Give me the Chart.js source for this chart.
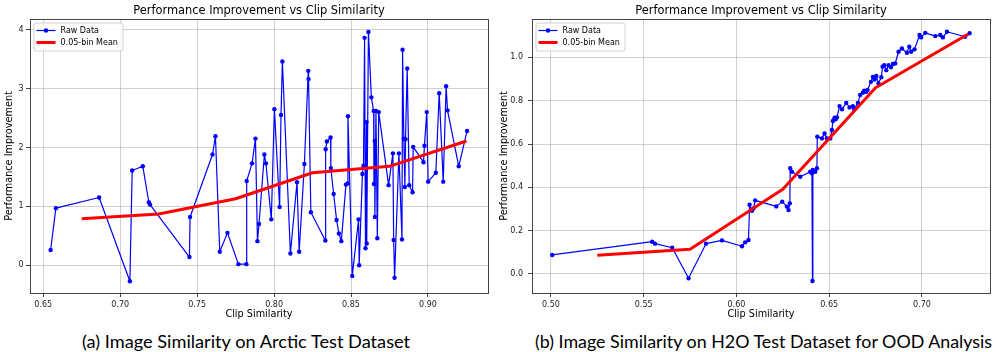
<!DOCTYPE html>
<html><head><meta charset="utf-8">
<script src="https://cdn.jsdelivr.net/npm/chart.js@4.4.1/dist/chart.umd.min.js"></script>
<style>
html,body{margin:0;padding:0;background:#fff;width:996px;height:352px;overflow:hidden;position:relative}
canvas{position:absolute;top:0}
#ca{left:0}#cb{left:498px}
.cap{position:absolute;top:331px;font-family:Lato,'Open Sans',sans-serif;font-size:18.2px;color:#000;white-space:nowrap;line-height:20px}
#capa{left:82px}#capb{left:535px;font-size:17.85px}
</style></head><body>
<canvas id="ca" width="498" height="325"></canvas>
<canvas id="cb" width="498" height="325"></canvas>
<div class="cap" id="capa"></div>
<div class="cap" id="capb"></div>
<script>
// ---------- data ----------
const chartTitle = "Performance Improvement vs Clip Similarity";
const xAxisTitle = "Clip Similarity";
const yAxisTitle = "Performance Improvement";
const rawLabel = "Raw Data";
const meanLabel = "0.05-bin Mean";
const captionA = "(a) Image Similarity on Arctic Test Dataset";
const captionB = "(b) Image Similarity on H2O Test Dataset for OOD Analysis";

const arcticX = [0.6548,0.6582,0.6863,0.7063,0.7078,0.7147,0.7186,0.7194,0.7450,0.7454,0.7600,0.7619,0.7647,0.7697,0.7768,0.7820,0.7822,0.7857,0.7879,0.7892,0.7902,0.7937,0.7947,0.7982,0.8002,0.8036,0.8045,0.8054,0.8106,0.8149,0.8163,0.8197,0.8222,0.8224,0.8239,0.8333,0.8335,0.8343,0.8367,0.8369,0.8387,0.8406,0.8421,0.8437,0.8467,0.8478,0.8480,0.8508,0.8549,0.8553,0.8574,0.8581,0.8588,0.8594,0.8601,0.8602,0.8613,0.8632,0.8647,0.8649,0.8654,0.8655,0.8662,0.8671,0.8680,0.8744,0.8772,0.8777,0.8783,0.8811,0.8831,0.8835,0.8843,0.8850,0.8854,0.8865,0.8878,0.8900,0.8904,0.8971,0.8977,0.8992,0.9001,0.9051,0.9073,0.9099,0.9118,0.9127,0.9200,0.9254];
const arcticY = [0.26,0.97,1.15,-0.27,1.61,1.68,1.07,1.03,0.14,0.82,1.88,2.19,0.23,0.55,0.02,0.02,1.43,1.73,2.15,0.41,0.70,1.88,1.73,0.78,2.65,0.99,2.55,3.46,0.20,1.41,0.23,1.72,3.30,3.16,0.90,0.42,1.97,2.10,2.17,1.65,1.21,0.77,0.54,0.41,1.37,1.39,2.53,-0.18,0.78,0.00,1.55,1.69,3.86,0.29,2.43,0.37,3.96,2.85,2.62,1.38,2.11,0.82,2.62,0.46,2.60,1.36,1.90,0.43,-0.21,1.90,0.44,3.66,2.15,1.33,2.14,3.34,1.36,1.24,2.01,1.75,2.03,2.60,1.42,1.57,2.92,1.42,3.04,2.63,1.68,2.28];
const arcticMeanX = [0.675,0.725,0.775,0.825,0.875,0.925];
const arcticMeanY = [0.79,0.87,1.13,1.57,1.68,2.11];
const arcticXTicks = [0.65,0.70,0.75,0.80,0.85,0.90];
const arcticYTicks = [0,1,2,3,4];

const h2oX = [0.5007,0.5546,0.5561,0.5654,0.5742,0.5836,0.5922,0.6030,0.6047,0.6065,0.6071,0.6084,0.6092,0.6101,0.6215,0.6247,0.6272,0.6281,0.6288,0.6290,0.6299,0.6344,0.6398,0.6407,0.6410,0.6412,0.6425,0.6434,0.6436,0.6461,0.6475,0.6488,0.6506,0.6515,0.6520,0.6526,0.6530,0.6533,0.6536,0.6542,0.6556,0.6569,0.6592,0.6610,0.6628,0.6635,0.6655,0.6667,0.6682,0.6689,0.6700,0.6707,0.6725,0.6736,0.6745,0.6754,0.6766,0.6781,0.6788,0.6797,0.6808,0.6820,0.6833,0.6844,0.6856,0.6874,0.6892,0.6919,0.6932,0.6942,0.6960,0.6987,0.6996,0.7018,0.7072,0.7099,0.7113,0.7135,0.7233,0.7257];
const h2oY = [0.088,0.149,0.140,0.121,-0.020,0.140,0.155,0.128,0.146,0.157,0.320,0.292,0.303,0.340,0.312,0.334,0.311,0.295,0.326,0.488,0.472,0.449,0.472,0.465,-0.032,0.480,0.472,0.488,0.634,0.626,0.649,0.626,0.626,0.665,0.706,0.712,0.722,0.718,0.715,0.723,0.775,0.760,0.790,0.769,0.775,0.760,0.790,0.826,0.837,0.846,0.841,0.849,0.887,0.910,0.898,0.914,0.880,0.908,0.957,0.964,0.941,0.964,0.954,0.969,0.972,1.026,1.041,1.021,1.049,1.026,1.037,1.103,1.092,1.113,1.098,1.103,1.092,1.118,1.095,1.111];
const h2oMeanX = [0.525,0.575,0.625,0.675,0.725];
const h2oMeanY = [0.086,0.114,0.391,0.860,1.108];
const h2oXTicks = [0.50,0.55,0.60,0.65,0.70];
const h2oYTicks = [0.0,0.2,0.4,0.6,0.8,1.0];

document.getElementById('capa').textContent = captionA;
document.getElementById('capb').textContent = captionB;

const FONT = "'DejaVu Sans', sans-serif";
const toPts = (xs, ys) => xs.map((x, i) => ({x: x, y: ys[i]}));

const framePlugin = {
  id: 'frameTitleLegend',
  afterDatasetsDraw(chart) {
    const ctx = chart.ctx, a = chart.chartArea;
    ctx.save();
    ctx.strokeStyle = '#444';
    ctx.lineWidth = 1;
    ctx.strokeRect(Math.round(a.left) + 0.5, Math.round(a.top) + 0.5, Math.round(a.right - a.left), Math.round(a.bottom - a.top));
    // title
    ctx.fillStyle = '#000';
    ctx.font = "11.4px " + FONT;
    ctx.textAlign = 'center';
    ctx.textBaseline = 'middle';
    ctx.fillText(chartTitle, (a.left + a.right) / 2, 11);
    // legend
    const lx = a.left + 3.5, ly = a.top + 3.5, lw = 89, lh = 28;
    ctx.fillStyle = 'rgba(255,255,255,0.85)';
    ctx.strokeStyle = '#d0d0d0';
    ctx.beginPath();
    if (ctx.roundRect) ctx.roundRect(lx + 0.5, ly + 0.5, lw, lh, 2); else ctx.rect(lx + 0.5, ly + 0.5, lw, lh);
    ctx.fill(); ctx.stroke();
    const ds = chart.data.datasets;
    const r1 = ly + 8, r2 = ly + 20;
    ctx.strokeStyle = ds[0].borderColor; ctx.lineWidth = 1.2;
    ctx.beginPath(); ctx.moveTo(lx + 3, r1); ctx.lineTo(lx + 22, r1); ctx.stroke();
    ctx.fillStyle = ds[0].borderColor;
    ctx.beginPath(); ctx.arc(lx + 12.5, r1, 2.2, 0, Math.PI * 2); ctx.fill();
    ctx.strokeStyle = ds[1].borderColor; ctx.lineWidth = 3;
    ctx.beginPath(); ctx.moveTo(lx + 3, r2); ctx.lineTo(lx + 22, r2); ctx.stroke();
    ctx.fillStyle = '#000';
    ctx.font = "8px " + FONT;
    ctx.textAlign = 'left';
    ctx.fillText(ds[0].label, lx + 27, r1);
    ctx.fillText(ds[1].label, lx + 27, r2);
    ctx.restore();
  }
};

function makeChart(id, rawX, rawY, meanX, meanY, xTicks, yTicks, xr, yr, yAxisW, padRight, xDec, yDec, yTickPad, yTitlePad) {
  return new Chart(document.getElementById(id), {
    type: 'line',
    data: {
      datasets: [
        {label: rawLabel, data: toPts(rawX, rawY), borderColor: '#0000ff', backgroundColor: '#0000ff',
         borderWidth: 1.2, pointRadius: 2.2, pointBorderWidth: 0, pointHoverRadius: 2.2, tension: 0, order: 1, borderJoinStyle: 'round'},
        {label: meanLabel, data: toPts(meanX, meanY), borderColor: '#ff0000', backgroundColor: '#ff0000',
         borderWidth: 3, pointRadius: 0, tension: 0, order: 0, borderJoinStyle: 'round'}
      ]
    },
    options: {
      responsive: false, animation: false, devicePixelRatio: 1,
      layout: {padding: {top: 19, right: padRight, left: 0, bottom: 0}},
      plugins: {legend: {display: false}, tooltip: {enabled: false}, title: {display: false}},
      scales: {
        x: {
          type: 'linear', min: xr[0], max: xr[1],
          afterBuildTicks: s => { s.ticks = xTicks.map(v => ({value: v})); },
          afterFit: s => { s.height = 32; },
          ticks: {font: {family: FONT, size: 8}, color: '#222', padding: 3, maxRotation: 0,
                  callback: v => Number(v).toFixed(xDec)},
          grid: {color: 'rgba(170,170,170,0.55)', lineWidth: 1, tickColor: '#444', tickLength: 4, tickWidth: 1},
          border: {display: false},
          title: {display: true, text: xAxisTitle, font: {family: FONT, size: 9.7}, color: '#000', padding: {top: 0, bottom: 4.5}}
        },
        y: {
          type: 'linear', min: yr[0], max: yr[1],
          afterBuildTicks: s => { s.ticks = yTicks.map(v => ({value: v})); },
          afterFit: s => { s.width = yAxisW; },
          ticks: {font: {family: FONT, size: 8}, color: '#222', padding: yTickPad,
                  callback: v => Number(v).toFixed(yDec)},
          grid: {color: 'rgba(170,170,170,0.55)', lineWidth: 1, tickColor: '#444', tickLength: 4, tickWidth: 1},
          border: {display: false},
          title: {display: true, text: yAxisTitle, font: {family: FONT, size: 9.7}, color: '#000', padding: {top: yTitlePad, bottom: 0}}
        }
      }
    },
    plugins: [framePlugin]
  });
}

makeChart('ca', arcticX, arcticY, arcticMeanX, arcticMeanY, arcticXTicks, arcticYTicks,
          [0.6414, 0.939], [-0.47, 4.18], 30, 10, 2, 0, 2.5, 4);
makeChart('cb', h2oX, h2oY, h2oMeanX, h2oMeanY, h2oXTicks, h2oYTicks,
          [0.4898, 0.7367], [-0.0877, 1.177], 34, 6, 2, 1, 5, 0.5);
</script>
</body></html>
